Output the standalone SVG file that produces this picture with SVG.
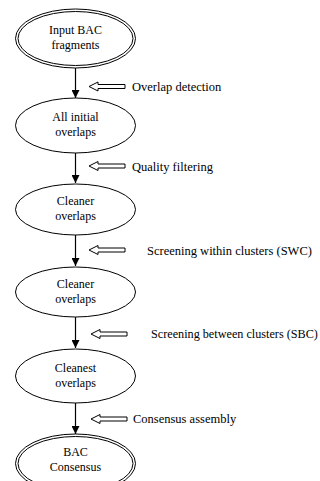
<svg xmlns="http://www.w3.org/2000/svg" width="320" height="481" viewBox="0 0 320 481">
<defs>
<style>
.node{fill:#fff;stroke:#000;stroke-width:1}
.nt{font-family:'Liberation Serif','Times New Roman',Times,serif;font-size:12px;text-anchor:middle;fill:#000}
.lbl{font-family:'Liberation Serif','Times New Roman',Times,serif;font-size:12.5px;fill:#000}
.edge{stroke:#000;stroke-width:1.2;fill:none}
.hollow{fill:#fff;stroke:#000;stroke-width:1}
</style>
<marker id="ah" markerWidth="8" markerHeight="8" refX="8" refY="4" orient="auto" markerUnits="userSpaceOnUse">
<path d="M0,0 L8,4 L0,8 Z" fill="#000"/>
</marker>
<polygon id="ha" points="0,0 9,-4.5 9,-2 36,-2 36,2 9,2 9,4.5" class="hollow"/>
</defs>
<rect width="320" height="481" fill="#fff"/>
<g id="connectors">
<line class="edge" x1="75.5" y1="68" x2="75.5" y2="98" marker-end="url(#ah)"/>
<line class="edge" x1="75.5" y1="153" x2="75.5" y2="183" marker-end="url(#ah)"/>
<line class="edge" x1="75.5" y1="235" x2="75.5" y2="266" marker-end="url(#ah)"/>
<line class="edge" x1="75.5" y1="317" x2="75.5" y2="348" marker-end="url(#ah)"/>
<line class="edge" x1="75.5" y1="403" x2="75.5" y2="434" marker-end="url(#ah)"/>
</g>
<g id="steps">
<use href="#ha" x="89" y="86.5"/>
<text class="lbl" x="132" y="90.5">Overlap detection</text>
<use href="#ha" x="89" y="166"/>
<text class="lbl" x="132" y="170.5">Quality filtering</text>
<use href="#ha" x="89" y="250"/>
<text class="lbl" x="147" y="254.5">Screening within clusters (SWC)</text>
<use href="#ha" x="91" y="334"/>
<text class="lbl" x="151" y="338" style="font-size:12.2px">Screening between clusters (SBC)</text>
<use href="#ha" x="91" y="419"/>
<text class="lbl" x="133" y="423">Consensus assembly</text>
</g>
<g id="n1">
<ellipse class="node" cx="75.5" cy="38.5" rx="60" ry="29.5"/>
<ellipse class="node" cx="75.5" cy="38.5" rx="57.5" ry="27"/>
<text class="nt" x="75.5" y="34">Input BAC</text>
<text class="nt" x="75.5" y="48.5">fragments</text>
</g>
<g id="n2">
<ellipse class="node" cx="75.5" cy="125.5" rx="60" ry="27.5"/>
<text class="nt" x="75.5" y="121">All initial</text>
<text class="nt" x="75.5" y="135.5">overlaps</text>
</g>
<g id="n3">
<ellipse class="node" cx="75.5" cy="209.5" rx="60" ry="25.5"/>
<text class="nt" x="75.5" y="205">Cleaner</text>
<text class="nt" x="75.5" y="219.5">overlaps</text>
</g>
<g id="n4">
<ellipse class="node" cx="75.5" cy="292" rx="60" ry="25"/>
<text class="nt" x="75.5" y="288">Cleaner</text>
<text class="nt" x="75.5" y="302.5">overlaps</text>
</g>
<g id="n5">
<ellipse class="node" cx="75.5" cy="376" rx="60" ry="27"/>
<text class="nt" x="75.5" y="372">Cleanest</text>
<text class="nt" x="75.5" y="386.5">overlaps</text>
</g>
<g id="n6">
<ellipse class="node" cx="75.5" cy="463.5" rx="60" ry="29.5"/>
<ellipse class="node" cx="75.5" cy="463.5" rx="57.5" ry="27"/>
<text class="nt" x="75.5" y="456">BAC</text>
<text class="nt" x="75.5" y="470.5">Consensus</text>
</g>
</svg>
